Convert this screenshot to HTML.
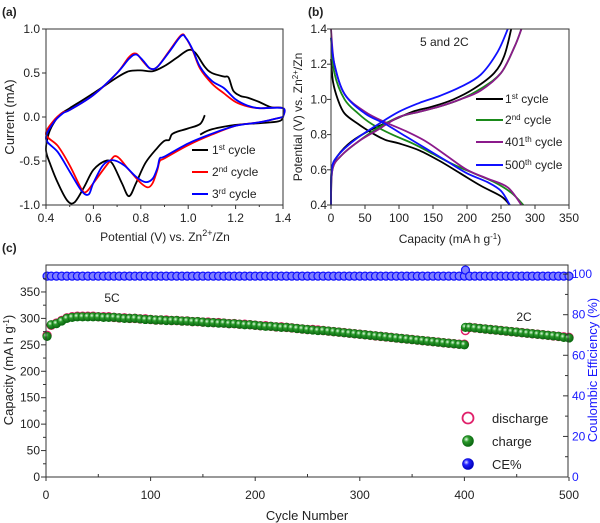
<!DOCTYPE html>
<html><head><meta charset="utf-8"><style>
body{margin:0;background:#fff;}
svg{display:block;font-family:"Liberation Sans",Arial,sans-serif;}
</style></head><body>
<svg id="fig" width="600" height="523" viewBox="0 0 600 523">
<defs>
<radialGradient id="gG" cx="0.35" cy="0.35" r="0.7"><stop offset="0" stop-color="#e8ffe8"/><stop offset="0.35" stop-color="#2a9a2a"/><stop offset="1" stop-color="#0a6010"/></radialGradient>
<radialGradient id="gB" cx="0.35" cy="0.35" r="0.7"><stop offset="0" stop-color="#e0e0ff"/><stop offset="0.35" stop-color="#2020ff"/><stop offset="1" stop-color="#0000b0"/></radialGradient>
</defs>
</svg>
<script>
// ---------- Panel (a) CV data ----------
const cv1V=[1.07,1.05,1.0,0.95,0.93,0.92,0.9,0.87,0.82,0.78,0.75,0.72,0.68,0.65,0.6,0.56,0.52,0.49,0.45,0.42,0.4,0.41,0.43,0.46,0.5,0.6,0.7,0.75,0.8,0.85,0.9,0.95,1.0,1.03,1.07,1.1,1.15,1.17,1.19,1.22,1.25,1.3,1.35,1.4,1.4,1.38,1.3,1.2,1.1,1.05];
const cv1I=[0.02,-0.08,-0.13,-0.17,-0.2,-0.26,-0.27,-0.35,-0.52,-0.75,-0.9,-0.75,-0.53,-0.5,-0.6,-0.8,-0.97,-0.95,-0.75,-0.55,-0.38,-0.2,-0.08,0.03,0.1,0.27,0.45,0.52,0.53,0.52,0.58,0.67,0.76,0.73,0.57,0.5,0.46,0.45,0.3,0.24,0.22,0.17,0.11,0.1,0.0,-0.05,-0.07,-0.09,-0.14,-0.2];
const cv2V=[1.4,1.3,1.2,1.1,1.0,0.9,0.88,0.87,0.85,0.83,0.8,0.75,0.7,0.67,0.6,0.57,0.55,0.5,0.45,0.4,0.43,0.47,0.5,0.6,0.7,0.75,0.78,0.81,0.84,0.87,0.92,0.97,0.99,1.02,1.05,1.1,1.15,1.2,1.25,1.3,1.4,1.4];
const cv2I=[0.0,-0.06,-0.1,-0.2,-0.32,-0.47,-0.5,-0.6,-0.75,-0.8,-0.75,-0.6,-0.45,-0.5,-0.75,-0.85,-0.82,-0.55,-0.33,-0.2,-0.05,0.05,0.08,0.25,0.5,0.68,0.72,0.63,0.55,0.57,0.75,0.93,0.9,0.75,0.55,0.38,0.27,0.17,0.12,0.1,0.1,0.0];
const cv3V=[1.4,1.3,1.2,1.1,1.0,0.9,0.88,0.87,0.85,0.82,0.78,0.73,0.68,0.64,0.6,0.58,0.55,0.5,0.45,0.4,0.43,0.47,0.5,0.6,0.7,0.75,0.78,0.81,0.84,0.87,0.92,0.97,0.99,1.02,1.05,1.1,1.15,1.2,1.25,1.3,1.4,1.4];
const cv3I=[0.0,-0.06,-0.1,-0.19,-0.3,-0.45,-0.47,-0.58,-0.7,-0.74,-0.68,-0.55,-0.49,-0.55,-0.75,-0.88,-0.84,-0.62,-0.4,-0.25,-0.07,0.04,0.08,0.25,0.5,0.66,0.71,0.64,0.55,0.57,0.74,0.92,0.9,0.76,0.57,0.41,0.33,0.2,0.13,0.1,0.1,0.0];
const aXTicks=[0.4,0.6,0.8,1.0,1.2,1.4];
const aYTicks=[-1.0,-0.5,0.0,0.5,1.0];
// ---------- Panel (b) GCD data ----------
const bDis1C=[0,3,10,20,40,60,80,100,130,160,190,220,250,263], bDis1V=[1.23,1.1,1.0,0.92,0.86,0.81,0.77,0.75,0.71,0.65,0.58,0.51,0.45,0.4];
const bCh1C=[0,1,10,30,60,90,120,150,180,210,240,255,265], bCh1V=[0.4,0.6,0.68,0.76,0.83,0.88,0.93,0.96,1.0,1.06,1.15,1.25,1.4];
const bDis2C=[0,5,20,40,60,90,120,150,180,210,240,265,283], bDis2V=[1.35,1.15,1.0,0.92,0.86,0.8,0.75,0.69,0.63,0.58,0.53,0.47,0.4];
const bCh2C=[0,2,15,40,70,100,130,160,190,220,250,270,280], bCh2V=[0.4,0.6,0.68,0.76,0.84,0.9,0.93,0.96,1.0,1.06,1.15,1.3,1.4];
const bDis401C=[0,5,20,50,80,110,140,170,200,230,260,280], bDis401V=[1.4,1.2,1.03,0.93,0.87,0.82,0.76,0.68,0.6,0.55,0.5,0.4];
const bCh401C=[0,2,15,40,70,100,130,160,190,220,250,270,280], bCh401V=[0.4,0.6,0.68,0.76,0.83,0.9,0.93,0.96,1.0,1.05,1.15,1.3,1.4];
const bDis500C=[0,5,20,50,80,110,140,170,200,230,250,263], bDis500V=[1.35,1.2,1.03,0.92,0.86,0.79,0.72,0.65,0.58,0.53,0.48,0.4];
const bCh500C=[0,1,10,35,70,100,130,160,190,220,245,260], bCh500V=[0.4,0.6,0.68,0.77,0.86,0.93,0.98,1.02,1.07,1.14,1.27,1.4];
const bXTicks=[0,50,100,150,200,250,300,350];
const bYTicks=[0.4,0.6,0.8,1.0,1.2,1.4];
// ---------- Panel (c) cycling data ----------
const cyc5C=[1,5,10,15,20,25,30,35,40,45,50,55,60,65,70,75,80,85,90,95,100,105,110,115,120,125,130,135,140,145,150,155,160,165,170,175,180,185,190,195,200,205,210,215,220,225,230,235,240,245,250,255,260,265,270,275,280,285,290,295,300,305,310,315,320,325,330,335,340,345,350,355,360,365,370,375,380,385,390,395,400];
const charge5C=[266,288,290,295,300,302,303,303,303,303,303,302,302,302,301,300,300,300,299,298,298,297,297,296,296,296,295,295,294,294,293,292,292,291,291,290,290,289,288,288,287,286,285,285,284,283,283,282,281,280,279,278,277,277,276,275,274,273,272,271,270,269,268,267,266,265,264,263,262,261,260,259,258,257,256,255,254,253,252,251,250];
const discharge5C=[268,287,291,296,301,303,304,304,304,304,303,303,303,302,301,301,300,300,299,299,298,297,297,297,296,296,295,295,294,294,293,293,292,292,291,290,290,289,289,288,287,286,286,285,284,284,283,282,281,280,279,279,278,277,276,275,274,273,272,271,270,269,268,267,266,265,264,263,262,261,260,259,258,257,256,255,254,253,252,251,251];
const cyc2C=[401,405,410,415,420,425,430,435,440,445,450,455,460,465,470,475,480,485,490,495,500];
const charge2C=[283,283,282,281,280,279,278,277,276,275,274,273,272,271,270,269,268,267,266,264,263];
const discharge2C=[277,283,282,281,280,279,278,277,276,275,274,273,272,271,270,269,268,267,266,265,264];
const cycCE=[1,5,10,15,20,25,30,35,40,45,50,55,60,65,70,75,80,85,90,95,100,105,110,115,120,125,130,135,140,145,150,155,160,165,170,175,180,185,190,195,200,205,210,215,220,225,230,235,240,245,250,255,260,265,270,275,280,285,290,295,300,305,310,315,320,325,330,335,340,345,350,355,360,365,370,375,380,385,390,395,400,401,405,410,415,420,425,430,435,440,445,450,455,460,465,470,475,480,485,490,495,500];
const ce=[99,99,99,99,99,99,99,99,99,99,99,99,99,99,99,99,99,99,99,99,99,99,99,99,99,99,99,99,99,99,99,99,99,99,99,99,99,99,99,99,99,99,99,99,99,99,99,99,99,99,99,99,99,99,99,99,99,99,99,99,99,99,99,99,99,99,99,99,99,99,99,99,99,99,99,99,99,99,99,99,99,102,99,99,99,99,99,99,99,99,99,99,99,99,99,99,99,99,99,99,99,99];
const cXTicks=[0,100,200,300,400,500];
const cYTicks=[0,50,100,150,200,250,300,350];
const cY2Ticks=[0,20,40,60,80,100];

const NS="http://www.w3.org/2000/svg";
const svg=document.getElementById('fig');
function mk(tag,attrs,parent){const e=document.createElementNS(NS,tag);for(const k in attrs)e.setAttribute(k,attrs[k]);(parent||svg).appendChild(e);return e;}
function txt(x,y,s,size,anchor,parent,fill){const t=mk('text',{x:x,y:y,'font-size':size,'text-anchor':anchor||'middle',fill:fill||'#222'},parent);t.innerHTML=s;return t;}
function scale(d0,d1,p0,p1){return v=>p0+(v-d0)/(d1-d0)*(p1-p0);}
function smooth(pts){let d='M'+pts[0][0].toFixed(1)+','+pts[0][1].toFixed(1);for(let i=0;i<pts.length-1;i++){const p0=pts[i-1]||pts[i],p1=pts[i],p2=pts[i+1],p3=pts[i+2]||p2;const c1=[p1[0]+(p2[0]-p0[0])/6,p1[1]+(p2[1]-p0[1])/6],c2=[p2[0]-(p3[0]-p1[0])/6,p2[1]-(p3[1]-p1[1])/6];d+='C'+c1[0].toFixed(1)+','+c1[1].toFixed(1)+' '+c2[0].toFixed(1)+','+c2[1].toFixed(1)+' '+p2[0].toFixed(1)+','+p2[1].toFixed(1);}return d;}
function curve(g,xs,ys,sx,sy,color,name){const p=mk('path',{d:smooth(xs.map((x,i)=>[sx(x),sy(ys[i])])),fill:'none',stroke:color,'stroke-width':1.8},g);return p;}
function frame(g,l,t,r,b){const f=mk('rect',{x:l,y:t,width:r-l,height:b-t,fill:'none',stroke:'#333','stroke-width':1},g);}

// ===== Panel a =====
const ga=mk('g',{});


const axX=scale(0.4,1.4,46,283), ayY=scale(-1,1,205,29);
txt(2,16,'(a)',12,'start',ga).setAttribute('font-weight','bold');
curve(ga,cv1V,cv1I,axX,ayY,'#000','series-1st-cycle');
curve(ga,cv2V,cv2I,axX,ayY,'#f00','series-2nd-cycle');
curve(ga,cv3V,cv3I,axX,ayY,'#00f','series-3rd-cycle');
frame(ga,46,29,283,205);
aXTicks.forEach(v=>{mk('line',{x1:axX(v),x2:axX(v),y1:205,y2:209,stroke:'#333'},ga);txt(axX(v),222,v.toFixed(1),12,'middle',ga);});
[0.5,0.7,0.9,1.1,1.3].forEach(v=>mk('line',{x1:axX(v),x2:axX(v),y1:205,y2:207,stroke:'#333'},ga));
aYTicks.forEach(v=>{mk('line',{x1:42,x2:46,y1:ayY(v),y2:ayY(v),stroke:'#333'},ga);txt(40,ayY(v)+4,v.toFixed(1),12,'end',ga);});
txt(165,241,'Potential (V) vs. Zn<tspan baseline-shift="super" font-size="9">2+</tspan>/Zn',12,'middle',ga);
const aYT=txt(0,0,'Current (mA)',13,'middle',ga);aYT.setAttribute('transform','translate(14,117) rotate(-90)');
[['#000','1<tspan baseline-shift="super" font-size="8">st</tspan> cycle',150],['#f00','2<tspan baseline-shift="super" font-size="8">nd</tspan> cycle',172],['#00f','3<tspan baseline-shift="super" font-size="8">rd</tspan> cycle',194]].forEach((e,i)=>{const lg=mk('g',{},ga);mk('line',{x1:192,x2:208,y1:e[2],y2:e[2],stroke:e[0],'stroke-width':2},lg);txt(212,e[2]+4,e[1],12,'start',lg);});

// ===== Panel b =====
const gb=mk('g',{});


const bxX=scale(0,350,331,569), byY=scale(0.4,1.4,205,29);
txt(308,16,'(b)',12,'start',gb).setAttribute('font-weight','bold');
curve(gb,bDis1C,bDis1V,bxX,byY,'#000','discharge-1st');curve(gb,bCh1C,bCh1V,bxX,byY,'#000','charge-1st');
curve(gb,bDis2C,bDis2V,bxX,byY,'#1a8a1a','discharge-2nd');curve(gb,bCh2C,bCh2V,bxX,byY,'#1a8a1a','charge-2nd');
curve(gb,bDis401C,bDis401V,bxX,byY,'#8b1a8b','discharge-401th');curve(gb,bCh401C,bCh401V,bxX,byY,'#8b1a8b','charge-401th');
curve(gb,bDis500C,bDis500V,bxX,byY,'#1010ff','discharge-500th');curve(gb,bCh500C,bCh500V,bxX,byY,'#1010ff','charge-500th');
frame(gb,331,29,569,205);
bXTicks.forEach(v=>{mk('line',{x1:bxX(v),x2:bxX(v),y1:205,y2:209,stroke:'#333'},gb);txt(bxX(v),222,v,12,'middle',gb);});
bYTicks.forEach(v=>{mk('line',{x1:327,x2:331,y1:byY(v),y2:byY(v),stroke:'#333'},gb);txt(327,byY(v)+4,v.toFixed(1),12,'end',gb);});
txt(450,243,'Capacity (mA h g<tspan baseline-shift="super" font-size="8">-1</tspan>)',12,'middle',gb);
const bYT=txt(0,0,'Potential (V) vs. Zn<tspan baseline-shift="super" font-size="8">2+</tspan>/Zn',12,'middle',gb);bYT.setAttribute('transform','translate(302,117) rotate(-90)');
txt(420,46,'5 and 2C',12,'start',gb);
[['#000','1<tspan baseline-shift="super" font-size="8">st</tspan> cycle',99],['#1a8a1a','2<tspan baseline-shift="super" font-size="8">nd</tspan> cycle',120],['#8b1a8b','401<tspan baseline-shift="super" font-size="8">th</tspan> cycle',142],['#1010ff','500<tspan baseline-shift="super" font-size="8">th</tspan> cycle',165]].forEach(e=>{const lg=mk('g',{},gb);mk('line',{x1:476,x2:503,y1:e[2],y2:e[2],stroke:e[0],'stroke-width':2},lg);txt(505,e[2]+4,e[1],12,'start',lg);});

// ===== Panel c =====
const gc=mk('g',{});


const cxX=scale(0,500,46,569), cyY=scale(0,401,477,265), cy2Y=scale(0,104.5,477,265);
txt(2,252,'(c)',12,'start',gc).setAttribute('font-weight','bold');
function dots(xs,ys,sy,r,fill,stroke,sw,name){const g=mk('g',{},gc);xs.forEach((x,i)=>{const c=mk('circle',{cx:cxX(x),cy:sy(ys[i]),r:r,fill:fill,stroke:stroke,'stroke-width':sw},g);});}
dots(cycCE,ce,cy2Y,4,'#7f7fff','#1010ff',1.2,'ce-series');
dots(cyc5C,discharge5C,cyY,4,'#fff','#e0206a',1.5,'discharge-5c');
dots(cyc2C,discharge2C,cyY,4,'#fff','#e0206a',1.5,'discharge-2c');
dots(cyc5C,charge5C,cyY,4.3,'url(#gG)','#0a7010',0.6,'charge-5c');
dots(cyc2C,charge2C,cyY,4.3,'url(#gG)','#0a7010',0.6,'charge-2c');
frame(gc,46,265,568,477);
cXTicks.forEach(v=>{mk('line',{x1:cxX(v),x2:cxX(v),y1:477,y2:481,stroke:'#333'},gc);txt(cxX(v),499,v,12,'middle',gc);});
[50,150,250,350,450].forEach(v=>mk('line',{x1:cxX(v),x2:cxX(v),y1:477,y2:474,stroke:'#333'},gc));
cYTicks.forEach(v=>{mk('line',{x1:41,x2:46,y1:cyY(v),y2:cyY(v),stroke:'#333'},gc);txt(40,cyY(v)+4,v,12,'end',gc);});
[25,75,125,175,225,275,325,375].forEach(v=>mk('line',{x1:43,x2:46,y1:cyY(v),y2:cyY(v),stroke:'#333'},gc));
cY2Ticks.forEach(v=>{mk('line',{x1:563,x2:568,y1:cy2Y(v),y2:cy2Y(v),stroke:'#333'},gc);txt(572,cy2Y(v)+4,v,12,'start',gc,'#1a1aff');});
[10,30,50,70,90].forEach(v=>mk('line',{x1:565,x2:568,y1:cy2Y(v),y2:cy2Y(v),stroke:'#333'},gc));
txt(307,520,'Cycle Number',13,'middle',gc);
const cYT=txt(0,0,'Capacity (mA h g<tspan baseline-shift="super" font-size="8">-1</tspan>)',13,'middle',gc);cYT.setAttribute('transform','translate(13,370) rotate(-90)');
const cY2T=txt(0,0,'Coulombic Efficiency (%)',13,'middle',gc,'#1a1aff');cY2T.setAttribute('transform','translate(597,370) rotate(-90)');
txt(112,302,'5C',12,'middle',gc);
txt(524,321,'2C',12,'middle',gc);
[['discharge',418,'#fff','#e0206a',1.8],['charge',441,'url(#gG)','#0a7010',0.6],['CE%',464,'url(#gB)','#00c',0.6]].forEach(e=>{const lg=mk('g',{},gc);mk('circle',{cx:468,cy:e[1],r:5.5,fill:e[2],stroke:e[3],'stroke-width':e[4]},lg);txt(492,e[1]+5,e[0],13,'start',lg);});
</script>
</body></html>
